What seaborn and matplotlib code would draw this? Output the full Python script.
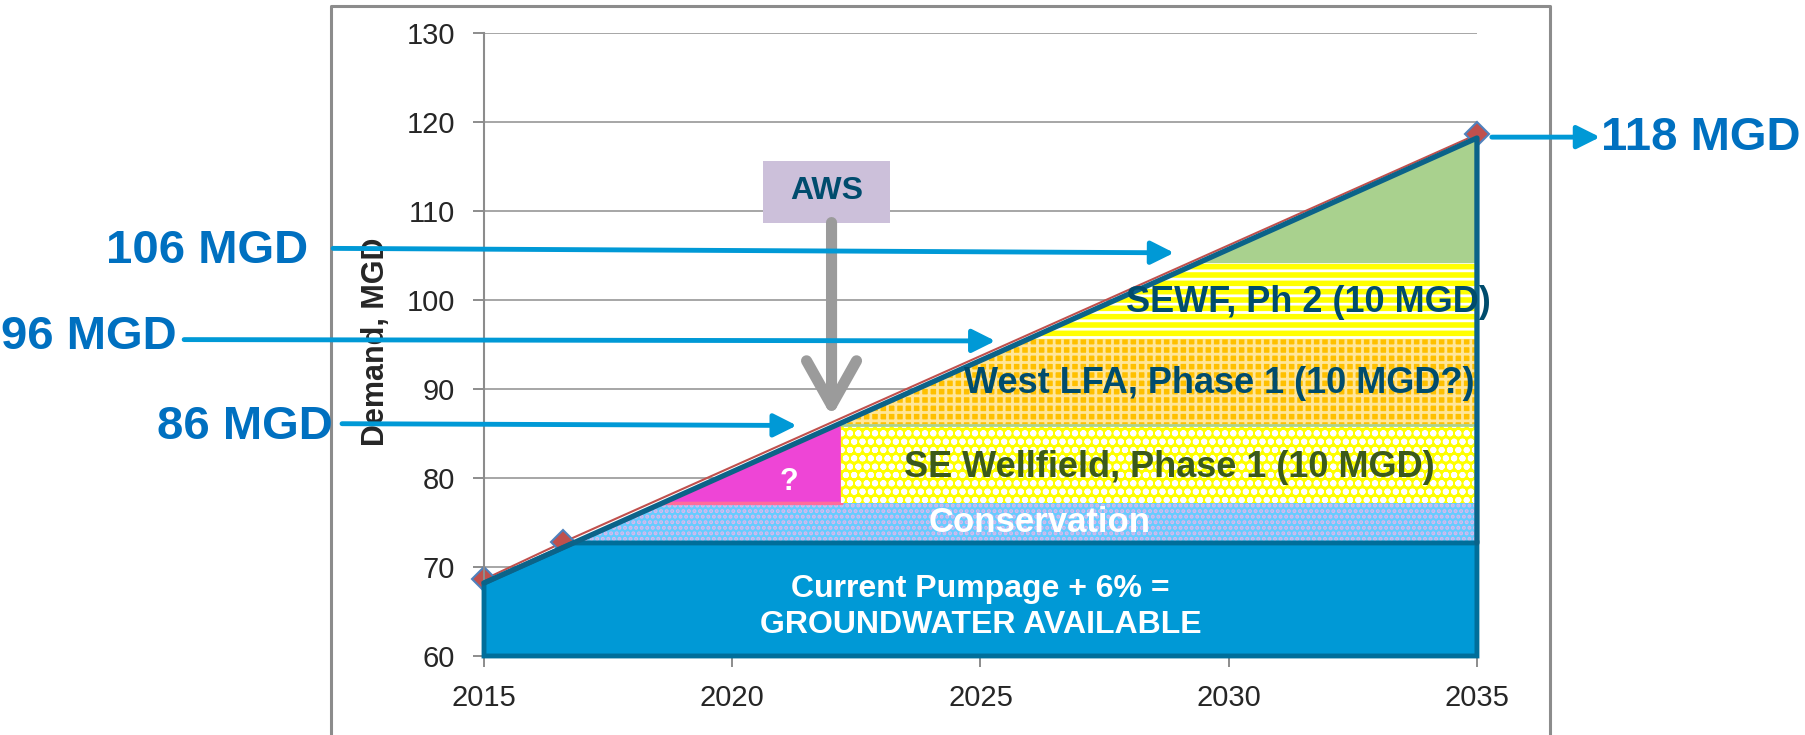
import numpy as np
import matplotlib
matplotlib.use("Agg")
import matplotlib.pyplot as plt
import seaborn as sns
from matplotlib.lines import Line2D
from matplotlib.patches import Rectangle

# excel series: demand forecast points
demand_years = [2015, 2016.6, 2035]
demand_mgd = [68.6, 72.8, 118.6]

# drawn demand line (start / end)
line_years = [2015, 2035]
line_mgd = [68.2, 118.2]

# supply stack levels (MGD)
floor_mgd = 60
pumpage_top = 72.7
conservation_top = 77.2
se_wellfield_top = 86.0
west_lfa_top = 95.6
sewf_ph2_top = 104.2
aws_year = 2022.2

# call-out arrows on the left
callout_labels = ["106 MGD", "96 MGD", "86 MGD"]
callout_text_x = [2011.45, 2008.8, 2011.96]
callout_text_y = [105.55, 95.8, 85.7]
callout_tail_x = [2011.96, 2008.96, 2012.14]
callout_tail_y = [105.8, 95.55, 86.1]
callout_tip_x = [2028.9, 2025.3, 2021.3]
callout_tip_y = [105.3, 95.4, 85.9]

# band labels
band_labels = ["Conservation", "SE Wellfield, Phase 1 (10 MGD)",
               "West LFA, Phase 1 (10 MGD?)", "SEWF, Ph 2 (10 MGD)"]
band_label_x = [2026.2, 2028.8, 2029.8, 2031.6]
band_label_y = [74.95, 81.2, 90.6, 99.7]
band_label_colors = ["white", "#3B5A1C", "#004C6D", "#004C6D"]

sns.set_style("white")
plt.rcParams["font.family"] = ["Liberation Sans", "DejaVu Sans"]
plt.rcParams["hatch.linewidth"] = 2.0


def on_line(y):
    # year where the demand line reaches y
    return np.interp(y, line_mgd, line_years)


fig = plt.figure(figsize=(18.06, 7.35), dpi=100)
ax = fig.add_axes([0.268, 0.1075, 0.5498, 0.8476])
ax.set_xlim(2015, 2035)
ax.set_ylim(60, 130)

# grid / axes like excel
for s in ["top", "right"]:
    ax.spines[s].set_visible(False)
for s in ["left", "bottom"]:
    ax.spines[s].set_color("#8C8C8C")
    ax.spines[s].set_linewidth(1.5)
ax.yaxis.grid(True, color="#A6A6A6", lw=1.4)
ax.set_axisbelow(True)
ax.set_xticks([2015, 2020, 2025, 2030, 2035])
ax.set_yticks(range(60, 131, 10))
ax.tick_params(axis="both", direction="out", length=8, width=1.4, color="#8C8C8C",
               labelsize=21, labelcolor="#262626")
ax.tick_params(axis="y", pad=13, left=True)
ax.tick_params(axis="x", pad=12, bottom=True)
ax.set_ylabel("Demand, MGD", fontsize=22, fontweight="bold")
ax.yaxis.set_label_coords(-0.094, 0.505)

# excel series line + markers
sns.lineplot(x=demand_years, y=demand_mgd, ax=ax, color="#C0504D", lw=1.5,
             marker="D", markersize=12, markerfacecolor="#C0504D",
             markeredgecolor="#4F81BD", markeredgewidth=1.5, clip_on=False, zorder=2)

# current pumpage block
ax.fill([line_years[0], line_years[0], on_line(pumpage_top), line_years[1], line_years[1]],
        [floor_mgd, line_mgd[0], pumpage_top, pumpage_top, floor_mgd],
        facecolor="#0099D6", edgecolor="#006E9A", lw=3.5, clip_on=False, zorder=4)

# conservation
y = [pumpage_top, conservation_top]
ax.fill_betweenx(y, on_line(y), line_years[1], facecolor="#66CCFF", edgecolor="#DDB8EC",
                 hatch="...", lw=0, zorder=3)

# question mark triangle
y = [conservation_top, se_wellfield_top]
ax.fill_betweenx(y, on_line(y), aws_year, facecolor="#EE45D6", edgecolor="#FF6C9C",
                 lw=2.5, zorder=3)

# SE wellfield phase 1
ax.fill_betweenx(y, aws_year, line_years[1], facecolor="#FFFF00", edgecolor="white",
                 hatch="oo", lw=0, zorder=3)

# west LFA
y = [se_wellfield_top, west_lfa_top]
ax.fill_betweenx(y, on_line(y), line_years[1], facecolor="#FFC000", edgecolor="#FFE699",
                 hatch="++", lw=0, zorder=3)
ax.plot([aws_year, line_years[1]], [se_wellfield_top, se_wellfield_top],
        color="#A9D18E", lw=2, zorder=3)

# SEWF phase 2
y = [west_lfa_top, sewf_ph2_top]
ax.fill_betweenx(y, on_line(y), line_years[1], facecolor="#FFFF00", edgecolor="white",
                 hatch="--", lw=0, zorder=3)

# remaining gap
y = [sewf_ph2_top, line_mgd[1]]
ax.fill_betweenx(y, on_line(y), line_years[1], facecolor="#A9D18E", lw=0, zorder=3)

# dark outline of the demand wedge
ax.plot([line_years[0], line_years[1], line_years[1]], [line_mgd[0], line_mgd[1], pumpage_top],
        color="#0B6389", lw=3.8, solid_capstyle="round", clip_on=False, zorder=5)

# labels inside the bands
for lab, x, yy, c in zip(band_labels, band_label_x, band_label_y, band_label_colors):
    ax.text(x, yy, lab, ha="center", va="center", fontsize=25 if lab == "Conservation" else 26,
            fontweight="bold", color=c, zorder=6)
ax.text(2025, 65.5, "Current Pumpage + 6% =\nGROUNDWATER AVAILABLE", ha="center",
        va="center", fontsize=23, fontweight="bold", color="white", linespacing=1.3, zorder=6)
ax.text(2021.15, 79.6, "?", ha="center", va="center", fontsize=22, fontweight="bold",
        color="white", zorder=6)

# AWS box with grey arrow
ax.add_patch(Rectangle((2020.62, 108.7), 2.56, 6.9, facecolor="#CCC0DA", edgecolor="none",
                       zorder=6))
ax.text(2021.9, 112.2, "AWS", ha="center", va="center", fontsize=23, fontweight="bold",
        color="#004C6D", zorder=7)
ax.annotate("", xy=(2022.0, 86.9), xytext=(2022.0, 108.7),
            arrowprops=dict(arrowstyle="->,head_length=0.8,head_width=0.45", color="#9B9B9B",
                            lw=8, mutation_scale=40, shrinkA=0, shrinkB=0), zorder=7)

# blue call-outs
blue_line = "#0099D6"
blue_text = "#0070C0"
for lab, tx, ty, x0, y0, x1, y1 in zip(callout_labels, callout_text_x, callout_text_y,
                                        callout_tail_x, callout_tail_y, callout_tip_x, callout_tip_y):
    ax.annotate("", xy=(x1, y1), xytext=(x0, y0), annotation_clip=False,
                arrowprops=dict(arrowstyle="-|>,head_length=0.7,head_width=0.35", color=blue_line,
                                lw=3.5, mutation_scale=20, shrinkA=0, shrinkB=0), zorder=8)
    ax.text(tx, ty, lab, ha="right", va="center", fontsize=34, fontweight="bold",
            color=blue_text, zorder=8)

ax.annotate("", xy=(2037.48, 118.3), xytext=(2035.3, 118.3), annotation_clip=False,
            arrowprops=dict(arrowstyle="-|>,head_length=0.7,head_width=0.35", color=blue_line,
                            lw=3.5, mutation_scale=20, shrinkA=0, shrinkB=0), zorder=8)
ax.text(2037.5, 118.2, "118 MGD", ha="left", va="center", fontsize=34, fontweight="bold",
        color=blue_text, zorder=8)

# chart area border (excel frame)
frame_x = [331 / 1806, 331 / 1806, 1550 / 1806, 1550 / 1806]
frame_y = [0, 729 / 735, 729 / 735, 0]
fig.add_artist(Line2D(frame_x, frame_y, transform=fig.transFigure, color="#8C8C8C",
                      lw=2.2, zorder=0))

fig.savefig("out.png", dpi=100)
